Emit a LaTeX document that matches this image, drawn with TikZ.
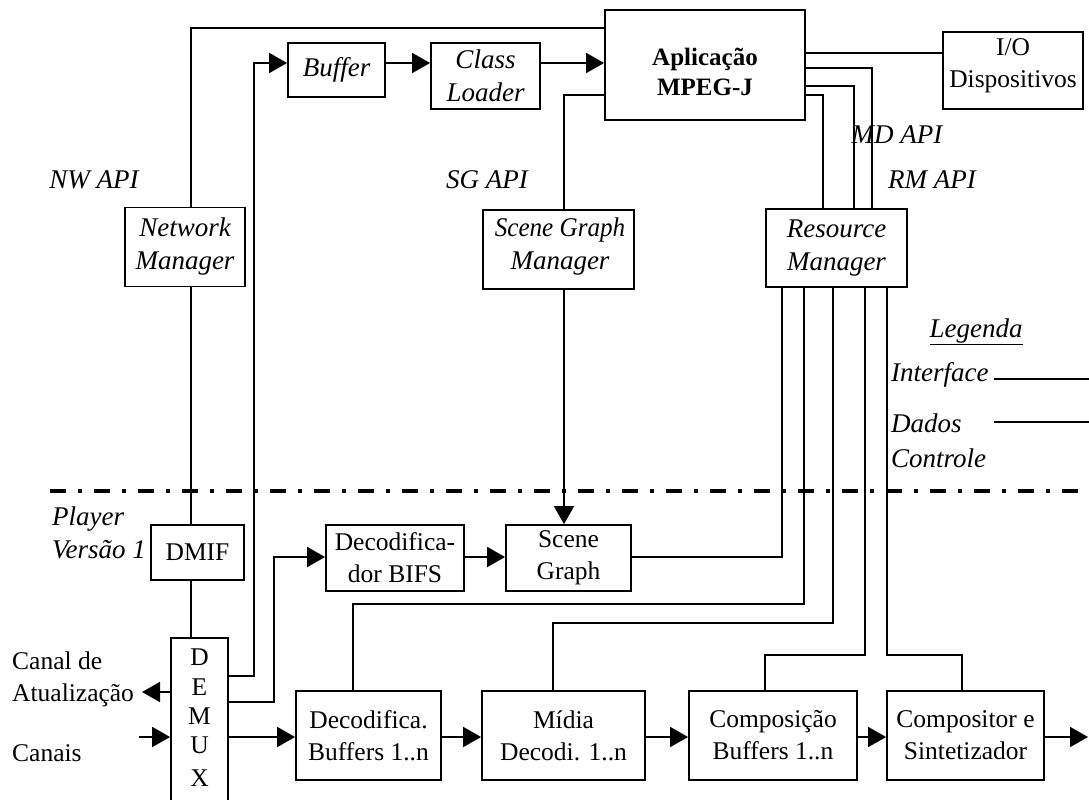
\documentclass[tikz,border=0pt]{standalone}
\usepackage{fontspec}
\usepackage{graphicx}
\setmainfont{Liberation Serif}
\usetikzlibrary{arrows.meta,calc}
\begin{document}
\begin{tikzpicture}[x=1pt,y=-1pt,
  every node/.style={inner sep=0pt},
  wire/.style={line width=1.8pt},
  arr/.style={wire,-{Triangle[length=18pt,width=20pt]}},
  txt/.style={font=\fontsize{25.5}{32}\selectfont, align=center},
  ittxt/.style={font=\fontsize{27}{33}\selectfont\itshape, align=center},
  box/.style={draw, line width=1.8pt, txt},
  itbox/.style={draw, line width=1.8pt, ittxt},
  plainbox/.style={draw, line width=1.8pt},
  bftxt/.style={align=center, font=\fontsize{25}{30}\selectfont\bfseries},
]
\useasboundingbox (0,0) rectangle (1089,800);

% boxes
\node[plainbox, minimum width=200pt, minimum height=110pt] (app) at (705,65) {};
\node[bftxt] (appt) at (705,72) {Aplica\c{c}\~ao\\MPEG-J};
\node[itbox, minimum width=97pt, minimum height=54pt] (buf) at (336.5,70) {Buffer};
\node[itbox, minimum width=109pt, minimum height=66pt] (cl) at (485.5,76) {Class\\Loader};
\node[plainbox, minimum width=140pt, minimum height=77pt] (io) at (1013,70.5) {};
\node[txt] (iot) at (1013,66) {I/O\\Dispositivos};
\node[itbox, minimum width=120pt, minimum height=79pt] (nm) at (185,247) {Network\\Manager};
\node[plainbox, minimum width=151pt, minimum height=79pt] (sgm) at (558.5,249.5) {};
\node[ittxt] (sgmt) at (560,247) {\scalebox{0.93}[1]{Scene Graph}\\Manager};
\node[itbox, minimum width=141pt, minimum height=78pt] (rm) at (836.5,248) {Resource\\Manager};
\node[box, minimum width=93pt, minimum height=55pt] (dmif) at (197.5,552.5) {DMIF};
\node[box, minimum width=138pt, minimum height=66pt] (bifs) at (395,558) {Decodifica-\\dor BIFS};
\node[box, minimum width=125pt, minimum height=66pt] (sg) at (568.5,558) {Scene\\Graph};
\node[plainbox, minimum width=57pt, minimum height=170pt] (demux) at (199.5,723) {};
\node[txt] (dd) at (199.5,657) {D};
\node[txt] (de) at (199.5,687) {E};
\node[txt] (dm) at (199.5,716) {M};
\node[txt] (du) at (199.5,745) {U};
\node[txt] (dx) at (199.5,778) {X};
\node[box, minimum width=145pt, minimum height=89pt] (db) at (368.5,735.5) {Decodifica.\\Buffers 1..n};
\node[box, minimum width=163pt, minimum height=89pt] (mid) at (563.5,735.5) {M\'idia\\Decodi. 1..n};
\node[box, minimum width=168pt, minimum height=89pt] (comp) at (773,735.5) {Composi\c{c}\~ao\\Buffers 1..n};
\node[box, minimum width=157pt, minimum height=89pt] (cs) at (965.5,735.5) {Compositor e\\Sintetizador};

% labels
\node[ittxt] (nwapi) at (94,180) {NW API};
\node[ittxt] (sgapi) at (487,180) {SG API};
\node[ittxt] (mdapi) at (897,135) {MD API};
\node[ittxt] (rmapi) at (932,180) {RM API};
\node[ittxt] (leg) at (976,332) {\underline{Legenda}};
\node[ittxt, anchor=west] (lint) at (891,375) {Interface};
\node[ittxt, anchor=west] (ldad) at (891,423) {Dados};
\node[ittxt, anchor=west] (lctl) at (891,458) {Controle};
\node[ittxt, anchor=west, align=left] (player) at (52,533) {Player\\Vers\~ao 1};
\node[txt, anchor=west, align=left] (canal) at (12,679) {Canal de\\Atualiza\c{c}\~ao};
\node[txt, anchor=west] (canais) at (12,753) {Canais};

% legend lines
\coordinate (l1a) at (994,379); \coordinate (l1b) at (1089,379);
\coordinate (l2a) at (994,422); \coordinate (l2b) at (1089,422);
\draw[wire] (l1a) -- (l1b);
\draw[wire] (l2a) -- (l2b);

% dash-dot separator
\coordinate (sepa) at (50,491); \coordinate (sepb) at (1089,491);
\draw[line width=4.5pt, dash pattern=on 16pt off 12pt on 4pt off 12pt] (sepa) -- (sepb);

% connectors
\draw[wire] (nm.north -| 191,0) -- (191,28) -- (app.west |- 0,28);
\draw[wire] (nm.south -| 191,0) -- (dmif.north -| 191,0);
\draw[wire] (dmif.south -| 191,0) -- (demux.north -| 191,0);
\draw[arr] (demux.east |- 0,676) -- (254,676) -- (254,63) -- (buf.west |- 0,63);
\draw[arr] (demux.east |- 0,702) -- (274,702) -- (274,557) -- (bifs.west |- 0,557);
\draw[arr] (demux.east |- 0,737) -- (db.west |- 0,737);
\coordinate (cin) at (139,737);
\draw[arr] (cin) -- (demux.west |- cin);
\coordinate (cout) at (142,692);
\draw[arr] (demux.west |- cout) -- (cout);
\draw[arr] (buf.east |- 0,63) -- (cl.west |- 0,63);
\draw[arr] (cl.east |- 0,63) -- (app.west |- 0,63);
\draw[wire] (app.west |- 0,95) -- (564,95) -- (sgm.north -| 564,0);
\draw[arr] (sgm.south -| 564,0) -- (sg.north -| 564,0);
\draw[arr] (bifs.east |- 0,557) -- (sg.west |- 0,557);
\draw[wire] (app.east |- 0,53) -- (io.west |- 0,53);
\draw[wire] (app.east |- 0,68) -- (872,68) -- (rm.north -| 872,0);
\draw[wire] (app.east |- 0,86) -- (854,86) -- (rm.north -| 854,0);
\draw[wire] (app.east |- 0,95) -- (823,95) -- (rm.north -| 823,0);
\draw[wire] (rm.south -| 782,0) -- (782,557) -- (sg.east |- 0,557);
\draw[wire] (rm.south -| 804,0) -- (804,604) -- (353,604) -- (db.north -| 353,0);
\draw[wire] (rm.south -| 833,0) -- (833,623) -- (553,623) -- (mid.north -| 553,0);
\draw[wire] (rm.south -| 865,0) -- (865,655) -- (765,655) -- (comp.north -| 765,0);
\draw[wire] (rm.south -| 887,0) -- (887,655) -- (962,655) -- (cs.north -| 962,0);
\draw[arr] (db.east |- 0,737) -- (mid.west |- 0,737);
\draw[arr] (mid.east |- 0,737) -- (comp.west |- 0,737);
\draw[arr] (comp.east |- 0,737) -- (cs.west |- 0,737);
\coordinate (outp) at (1088,737);
\draw[arr] (cs.east |- 0,737) -- (outp);
\end{tikzpicture}
\end{document}
